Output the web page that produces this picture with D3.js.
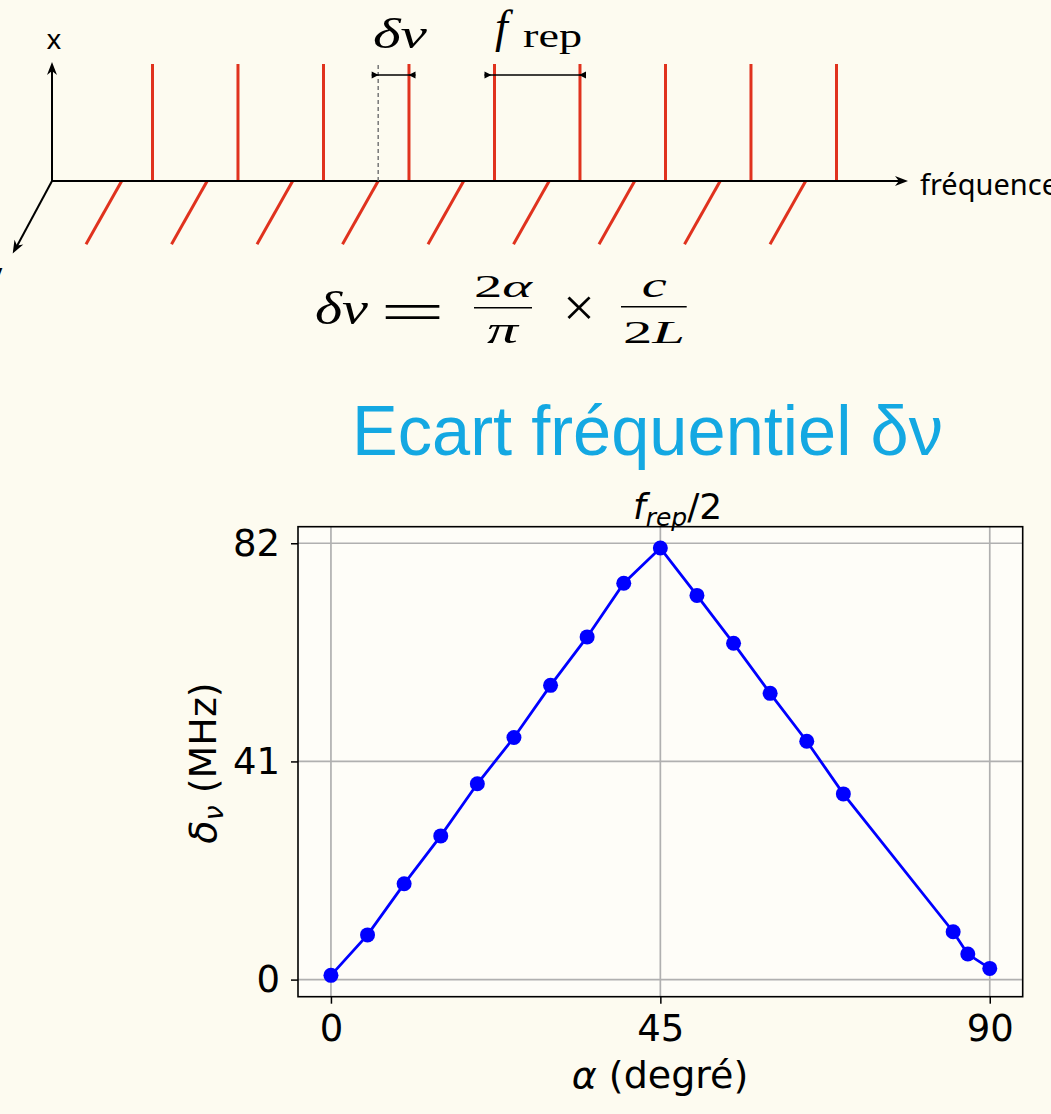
<!DOCTYPE html>
<html><head><meta charset="utf-8">
<script src="https://cdn.jsdelivr.net/npm/d3@7"></script>
<style>
html,body{margin:0;padding:0;background:#fdfbf0;}
svg{display:block;}
</style></head>
<body>
<script>
// ---------- data ----------
const alphaDeg = [0, 5, 10, 15, 20, 25, 30, 35, 40, 45, 50, 55, 60, 65, 70, 85, 87, 90];
const deltaNu  = [0.8, 8.4, 18.0, 27.0, 36.8, 45.5, 55.3, 64.4, 74.5, 81.1, 72.2, 63.2, 53.8, 44.8, 34.9, 9.0, 4.8, 2.1];
const xTicks = [0, 45, 90];
const yTicks = [0, 41, 82];
const modeIndex = [0, 1, 2, 3, 4, 5, 6, 7, 8];
const combShift = 0.36;          // δν expressed in units of f_rep (diagram)
const titleText = "Ecart fréquentiel δν";

// ---------- svg ----------
const W = 1051, H = 1114;
const svg = d3.select("body").append("svg").attr("width", W).attr("height", H);
svg.append("rect").attr("width", W).attr("height", H).attr("fill", "#fdfbf0");

// ---------- top diagram ----------
const red = "#e0321e";
const fx = d3.scaleLinear().domain([0, 8]).range([121.7, 805.7]);
const axisY = 181, origX = 52;
const diag = svg.append("g");

function arrowHead(g, tx, ty, dx, dy, len, hw) {
  const n = Math.hypot(dx, dy); dx /= n; dy /= n;
  const nx = -dy, ny = dx;
  const p = [
    [tx, ty],
    [tx - len * dx + hw * nx, ty - len * dy + hw * ny],
    [tx - 0.7 * len * dx, ty - 0.7 * len * dy],
    [tx - len * dx - hw * nx, ty - len * dy - hw * ny]
  ];
  g.append("path").attr("d", "M" + p.map(q => q.join(",")).join("L") + "Z").attr("fill", "#000");
}

// red diagonal lines (polarisation y)
diag.selectAll("line.dg").data(modeIndex).join("line")
  .attr("x1", d => fx(d)).attr("y1", axisY)
  .attr("x2", d => fx(d) - 35.7).attr("y2", axisY + 63.3)
  .attr("stroke", red).attr("stroke-width", 3);
// red vertical lines (polarisation x)
diag.selectAll("line.vt").data(modeIndex).join("line")
  .attr("x1", d => fx(d + combShift)).attr("y1", axisY)
  .attr("x2", d => fx(d + combShift)).attr("y2", 64)
  .attr("stroke", red).attr("stroke-width", 3);

// axes
diag.append("line").attr("x1", origX).attr("y1", axisY).attr("x2", 900).attr("y2", axisY)
  .attr("stroke", "#000").attr("stroke-width", 2);
arrowHead(diag, 908, axisY, 1, 0, 13, 5);
diag.append("line").attr("x1", origX).attr("y1", axisY).attr("x2", origX).attr("y2", 70)
  .attr("stroke", "#000").attr("stroke-width", 2);
arrowHead(diag, origX, 62, 0, -1, 13, 5);
diag.append("line").attr("x1", origX).attr("y1", axisY).attr("x2", 17).attr("y2", 246)
  .attr("stroke", "#000").attr("stroke-width", 2);
arrowHead(diag, 12.7, 253.5, -39.3, 72.5, 13, 5);

diag.append("text").attr("x", 54).attr("y", 48.5).attr("text-anchor", "middle")
  .attr("font-family", "Noto Sans").attr("font-size", 28).text("x");
diag.append("text").attr("x", -12).attr("y", 283)
  .attr("font-family", "Noto Sans").attr("font-size", 28).text("y");
diag.append("text").attr("x", 920).attr("y", 195)
  .attr("font-family", "Noto Sans").attr("font-size", 29).text("fréquence");

// dashed reference line
diag.append("line").attr("x1", fx(3)).attr("y1", axisY).attr("x2", fx(3)).attr("y2", 64)
  .attr("stroke", "#777").attr("stroke-width", 1.5).attr("stroke-dasharray", "4,3");

// dimension arrows
function dimArrow(xa, xb, y) {
  diag.append("line").attr("x1", xa).attr("y1", y).attr("x2", xb).attr("y2", y)
    .attr("stroke", "#000").attr("stroke-width", 1.6);
  diag.append("path").attr("d", `M${xa},${y - 3.5}L${xa + 7},${y}L${xa},${y + 3.5}Z`).attr("fill", "#000");
  diag.append("path").attr("d", `M${xb},${y - 3.5}L${xb - 7},${y}L${xb},${y + 3.5}Z`).attr("fill", "#000");
}
dimArrow(fx(3) - 6.5, fx(3 + combShift) + 6.5, 75);
dimArrow(fx(4 + combShift) - 10, fx(5 + combShift) + 6, 75);

diag.append("text").attr("x", 373).attr("y", 48)
  .attr("font-family", "Liberation Serif").attr("font-style", "italic").attr("font-size", 42)
  .attr("textLength", 54).attr("lengthAdjust", "spacingAndGlyphs").text("δν");
diag.append("text").attr("x", 495).attr("y", 42)
  .attr("font-family", "Liberation Serif").attr("font-style", "italic").attr("font-size", 46).text("f");
diag.append("text").attr("x", 523).attr("y", 47)
  .attr("font-family", "Liberation Serif").attr("font-size", 33)
  .attr("textLength", 59).attr("lengthAdjust", "spacingAndGlyphs").text("rep");

// ---------- formula ----------
const fm = svg.append("g").attr("font-family", "Liberation Serif").attr("fill", "#000");
function ftxt(x, y, size, len, txt, italic) {
  return fm.append("text").attr("x", x).attr("y", y).attr("font-size", size)
    .attr("font-style", italic ? "italic" : "normal")
    .attr("textLength", len).attr("lengthAdjust", "spacingAndGlyphs").text(txt);
}
ftxt(315, 324, 46, 53, "δν", true);
ftxt(380, 331, 58, 65, "=", false);
const num1 = fm.append("text").attr("x", 474).attr("y", 297).attr("font-size", 32)
  .attr("textLength", 58).attr("lengthAdjust", "spacingAndGlyphs");
num1.append("tspan").text("2");
num1.append("tspan").attr("font-style", "italic").text("α");
fm.append("line").attr("x1", 474).attr("x2", 532).attr("y1", 307.7).attr("y2", 307.7)
  .attr("stroke", "#000").attr("stroke-width", 1.6);
ftxt(487, 343, 38, 31, "π", true);
ftxt(563, 326, 54, 32, "×", false);
ftxt(641.7, 297, 36, 25, "c", true);
fm.append("line").attr("x1", 621).attr("x2", 686.7).attr("y1", 306.7).attr("y2", 306.7)
  .attr("stroke", "#000").attr("stroke-width", 1.6);
const den2 = fm.append("text").attr("x", 623).attr("y", 343).attr("font-size", 32)
  .attr("textLength", 62).attr("lengthAdjust", "spacingAndGlyphs");
den2.append("tspan").text("2");
den2.append("tspan").attr("font-style", "italic").text("L");

// ---------- title ----------
svg.append("text").attr("x", 352).attr("y", 455)
  .attr("font-family", "Liberation Sans").attr("font-size", 70).attr("fill", "#14a8e2")
  .attr("textLength", 591).attr("lengthAdjust", "spacingAndGlyphs")
  .text(titleText);

// ---------- chart ----------
const X0 = 298, X1 = 1022.7, Y0 = 526.7, Y1 = 996.7;
const x = d3.scaleLinear().domain([-4.5, 94.5]).range([X0, X1]);
const yMin = d3.min(deltaNu), yMax = d3.max(deltaNu), R = yMax - yMin;
const y = d3.scaleLinear().domain([yMin - 0.05 * R, yMax + 0.05 * R]).range([Y1, Y0]);

const ch = svg.append("g");
ch.append("rect").attr("x", X0).attr("y", Y0).attr("width", X1 - X0).attr("height", Y1 - Y0)
  .attr("fill", "#fefdf8");

// grid
ch.append("g").selectAll("line").data(xTicks).join("line")
  .attr("x1", d => x(d)).attr("x2", d => x(d)).attr("y1", Y0).attr("y2", Y1)
  .attr("stroke", "#b0b0b0").attr("stroke-width", 1.7);
ch.append("g").selectAll("line").data(yTicks).join("line")
  .attr("y1", d => y(d)).attr("y2", d => y(d)).attr("x1", X0).attr("x2", X1)
  .attr("stroke", "#b0b0b0").attr("stroke-width", 1.7);

// series
ch.append("path").datum(alphaDeg.map((a, i) => [a, deltaNu[i]]))
  .attr("d", d3.line().x(d => x(d[0])).y(d => y(d[1])))
  .attr("fill", "none").attr("stroke", "#0000ff").attr("stroke-width", 2.8);
ch.append("g").selectAll("circle").data(alphaDeg.map((a, i) => [a, deltaNu[i]])).join("circle")
  .attr("cx", d => x(d[0])).attr("cy", d => y(d[1])).attr("r", 7.5).attr("fill", "#0000ff");

// frame
ch.append("rect").attr("x", X0).attr("y", Y0).attr("width", X1 - X0).attr("height", Y1 - Y0)
  .attr("fill", "none").attr("stroke", "#000").attr("stroke-width", 1.6);

// axes
const gx = ch.append("g").attr("transform", `translate(0,${Y1})`)
  .call(d3.axisBottom(x).tickValues(xTicks).tickSize(7).tickPadding(11).tickFormat(d3.format("d")));
const gy = ch.append("g").attr("transform", `translate(${X0},0)`)
  .call(d3.axisLeft(y).tickValues(yTicks).tickSize(7).tickPadding(11).tickFormat(d3.format("d")));
[gx, gy].forEach(g => {
  g.select(".domain").remove();
  g.selectAll(".tick line").attr("stroke", "#000").attr("stroke-width", 1.5);
  g.selectAll(".tick text").attr("font-family", "DejaVu Sans").attr("font-size", 37).attr("fill", "#000");
});

// axis labels
const xl = ch.append("text").attr("x", 660).attr("y", 1088).attr("text-anchor", "middle")
  .attr("font-family", "DejaVu Sans").attr("font-size", 38);
xl.append("tspan").attr("font-style", "italic").text("α");
xl.append("tspan").text(" (degré)");

const yl = ch.append("text").attr("transform", "translate(216,763) rotate(-90)")
  .attr("text-anchor", "middle").attr("font-family", "DejaVu Sans").attr("font-size", 38);
yl.append("tspan").attr("font-style", "italic").text("δ");
yl.append("tspan").attr("font-style", "italic").attr("font-size", 27).attr("dy", 7).text("ν");
yl.append("tspan").attr("dy", -7).text(" (MHz)");

const tl = ch.append("text").attr("x", 633).attr("y", 519)
  .attr("font-family", "DejaVu Sans").attr("font-size", 36);
tl.append("tspan").attr("font-style", "italic").text("f");
tl.append("tspan").attr("font-style", "italic").attr("font-size", 25).attr("dy", 7).text("rep");
tl.append("tspan").attr("dy", -7).text("/2");
</script>
</body></html>
